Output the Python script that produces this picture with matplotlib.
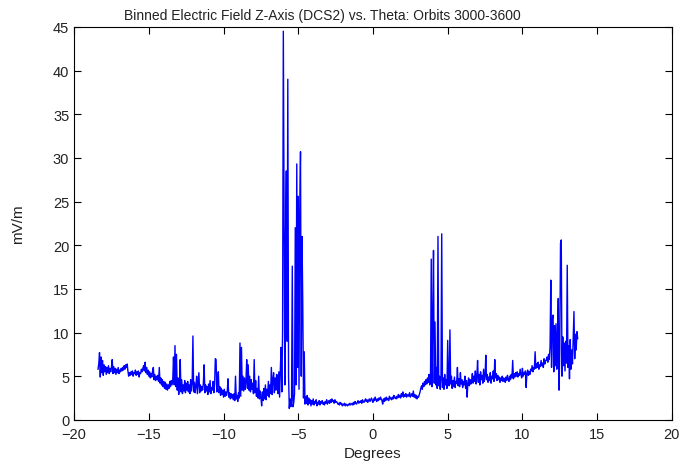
import numpy as np
import matplotlib
matplotlib.use("Agg")
import matplotlib.pyplot as plt

# theta grid (degrees), 0.05 deg spacing from -18.4 to 13.7
theta = np.round(np.arange(-18.40, 13.70 + 0.001, 0.05), 2)

# binned E-field z-axis values (mV/m), one row per degree starting at -18.4
efield = [
    5.8, 6.4, 7.7, 4.9, 7.2, 5.4, 6.8, 5.1, 6.3, 5.5, 6.1, 5.2, 6.0, 5.4, 6.2, 5.3, 5.9, 5.5, 6.0, 6.9,
    5.3, 6.1, 5.4, 5.9, 5.2, 5.8, 5.4, 6.0, 5.3, 5.7, 5.5, 5.9, 5.6, 6.0, 5.7, 6.2, 5.8, 6.3, 6.0, 6.4,
    5.6, 5.0, 5.4, 5.1, 5.5, 5.2, 5.6, 5.0, 5.4, 5.3, 5.7, 5.1, 5.5, 5.2, 5.6, 4.9, 5.4, 5.3, 5.8, 5.5,
    5.9, 6.2, 5.6, 6.6, 5.4, 6.0, 5.2, 5.7, 5.0, 5.5, 4.8, 5.3, 4.9, 5.6, 6.0, 4.6, 5.2, 4.5, 5.0, 4.6,
    5.1, 4.4, 6.0, 4.2, 4.8, 4.0, 4.6, 3.8, 4.4, 3.6, 4.3, 3.5, 4.1, 3.4, 4.0, 3.6, 4.4, 3.8, 4.5, 4.0,
    4.5, 7.2, 4.0, 8.5, 3.8, 7.5, 3.4, 4.8, 2.9, 4.2, 6.9, 3.2, 4.6, 3.0, 4.0, 3.3, 4.5, 3.1, 4.2, 3.4,
    4.4, 3.2, 4.0, 3.0, 4.6, 3.3, 4.1, 9.6, 3.2, 4.3, 3.1, 3.9, 5.0, 3.0, 4.2, 5.4, 3.1, 4.0, 3.3, 3.8,
    3.4, 4.2, 6.3, 3.1, 4.0, 3.3, 3.8, 2.9, 4.1, 3.2, 4.5, 3.0, 3.7, 3.4, 4.4, 3.1, 4.0, 7.0, 6.9, 3.2,
    4.0, 5.5, 3.1, 3.8, 2.8, 3.6, 2.9, 3.4, 2.6, 3.5, 2.7, 3.2, 2.8, 3.3, 4.7, 2.6, 3.1, 2.4, 3.0, 2.5,
    2.9, 2.3, 3.0, 2.2, 5.0, 2.4, 2.8, 2.1, 3.1, 2.5, 8.8, 2.7, 8.3, 3.4, 5.0, 3.3, 4.8, 3.5, 4.4, 6.9,
    3.6, 6.3, 3.4, 5.0, 3.2, 4.6, 3.5, 4.2, 3.0, 6.9, 3.1, 4.5, 2.7, 3.6, 2.5, 5.0, 2.4, 3.3, 2.6, 1.6,
    3.2, 2.2, 3.6, 2.4, 4.0, 2.3, 3.5, 2.8, 4.4, 2.6, 4.0, 3.0, 6.0, 2.9, 4.6, 5.4, 3.1, 4.8, 3.4, 5.2,
    5.1, 3.0, 5.5, 2.6, 5.8, 8.3, 3.2, 10.0, 44.5, 24.0, 4.0, 21.0, 28.5, 9.0, 39.0, 5.0, 1.3, 2.4, 1.5, 2.2,
    17.6, 1.5, 2.0, 3.0, 22.0, 4.0, 29.3, 6.0, 25.6, 3.5, 24.0, 30.7, 5.0, 21.0, 13.6, 2.5, 7.8, 1.8, 2.6, 1.9,
    2.8, 1.7, 2.5, 1.9, 2.3, 1.6, 2.2, 1.8, 2.4, 1.7, 2.1, 1.9, 2.3, 1.6, 2.0, 1.8, 2.2, 1.7, 2.1, 1.9,
    2.2, 1.8, 2.0, 1.7, 2.1, 1.9, 2.3, 1.8, 2.0, 2.2, 1.9, 2.3, 2.0, 2.4, 2.1, 2.2, 1.9, 2.3, 2.0, 2.1,
    2.0, 1.8, 1.9, 1.7, 2.0, 1.8, 1.9, 1.6, 1.8, 1.7, 1.9, 1.6, 1.8, 1.7, 1.6, 1.8, 1.7, 1.9, 1.7, 1.8,
    1.9, 1.7, 2.0, 1.8, 2.1, 1.9, 1.8, 2.0, 2.2, 1.9, 2.1, 2.0, 2.2, 1.9, 2.3, 2.1, 2.0, 2.2, 2.4, 2.1,
    2.3, 2.0, 2.2, 2.4, 2.1, 2.3, 2.5, 2.2, 2.0, 2.4, 2.2, 2.6, 2.3, 2.1, 2.4, 2.2, 2.5, 2.3, 2.6, 2.4,
    2.2, 1.8, 2.4, 2.1, 2.5, 2.2, 2.6, 2.3, 2.4, 2.2, 2.7, 2.4, 2.5, 2.3, 2.6, 2.4, 2.8, 2.5, 2.6, 2.4,
    2.7, 2.5, 2.9, 2.6, 2.8, 2.5, 3.0, 2.7, 3.2, 2.6, 2.9, 2.7, 3.0, 2.6, 2.8, 2.9, 2.7, 3.1, 2.6, 2.8,
    3.0, 2.7, 3.3, 2.6, 2.9, 2.5, 2.8, 2.4, 2.7, 2.6, 2.9, 3.2, 3.6, 3.9, 3.5, 4.2, 3.8, 4.4, 4.0, 4.6,
    4.1, 4.8, 4.3, 5.2, 4.0, 4.7, 18.4, 3.8, 10.8, 19.4, 4.2, 11.2, 4.0, 6.0, 3.6, 21.0, 3.9, 5.0, 3.5, 4.6,
    21.3, 3.7, 4.8, 3.5, 5.2, 4.0, 4.6, 3.6, 9.1, 4.2, 3.9, 10.3, 4.1, 5.0, 3.6, 4.5, 3.8, 4.9, 3.7, 4.4,
    4.2, 6.0, 3.9, 4.7, 3.8, 5.4, 4.1, 4.6, 3.7, 4.4, 4.0, 5.0, 3.6, 4.5, 2.6, 4.2, 4.8, 3.9, 4.6, 4.1,
    4.5, 5.3, 4.2, 5.0, 4.4, 5.6, 4.1, 4.9, 6.8, 4.3, 5.2, 4.0, 5.5, 4.6, 5.1, 4.2, 5.8, 4.4, 5.0, 7.4,
    4.6, 5.2, 4.3, 4.9, 4.5, 5.4, 4.2, 5.0, 4.7, 5.6, 4.4, 6.9, 4.8, 5.3, 4.5, 5.1, 4.6, 4.9, 4.3, 4.8,
    4.5, 5.0, 4.4, 4.8, 4.6, 4.3, 4.9, 4.5, 5.1, 4.7, 4.4, 5.0, 4.6, 5.2, 4.8, 6.8, 4.7, 5.3, 4.9, 5.4,
    5.0, 5.5, 4.9, 5.3, 5.1, 5.8, 5.2, 4.8, 5.9, 5.0, 5.4, 5.2, 5.6, 3.7, 5.3, 5.7, 5.1, 5.5, 5.2, 5.8,
    5.6, 6.2, 5.5, 6.0, 5.8, 7.8, 5.9, 6.4, 6.0, 6.6, 5.8, 6.3, 6.1, 6.8, 6.2, 6.5, 6.0, 7.0, 6.4, 6.8,
    6.8, 7.2, 6.6, 7.5, 6.9, 8.4, 16.0, 6.0, 11.5, 12.0, 5.5, 10.8, 6.2, 11.0, 5.8, 9.5, 13.9, 3.4, 8.0, 20.2,
    20.6, 5.0, 9.5, 6.2, 8.8, 5.6, 9.0, 6.5, 17.7, 6.0, 8.5, 4.7, 9.2, 5.8, 8.0, 6.4, 9.4, 12.4, 7.0, 9.8,
    8.0, 10.1, 9.3,
]

xticks = [-20, -15, -10, -5, 0, 5, 10, 15, 20]
yticks = [0, 5, 10, 15, 20, 25, 30, 35, 40, 45]

plt.rcParams['font.family'] = ['Liberation Sans', 'DejaVu Sans']

fig = plt.figure(figsize=(6.8, 4.64), dpi=100)
ax = fig.add_axes([0.109, 0.093, 0.879, 0.847])

ax.plot(theta, efield, color='#0000ff', linewidth=1.0)

ax.set_xlim(-20, 20)
ax.set_ylim(0, 45)
ax.set_xticks(xticks)
ax.set_yticks(yticks)
ax.tick_params(direction='in', length=5, width=0.8, labelsize=10.5,
               top=True, right=True, colors='black', labelcolor='#222222')
ax.tick_params(axis='x', pad=5)
for s in ax.spines.values():
    s.set_linewidth(0.8)
    s.set_color('black')

# MATLAB put the title a bit left of the axes centre
ax.set_title('Binned Electric Field Z-Axis (DCS2) vs. Theta: Orbits 3000-3600',
             fontsize=10, color='#222222', pad=6, x=0.415)
ax.set_xlabel('Degrees', fontsize=11, color='#222222', labelpad=4)
ax.set_ylabel('mV/m', fontsize=11, color='#222222', labelpad=20)

fig.savefig('out.png', dpi=100)
